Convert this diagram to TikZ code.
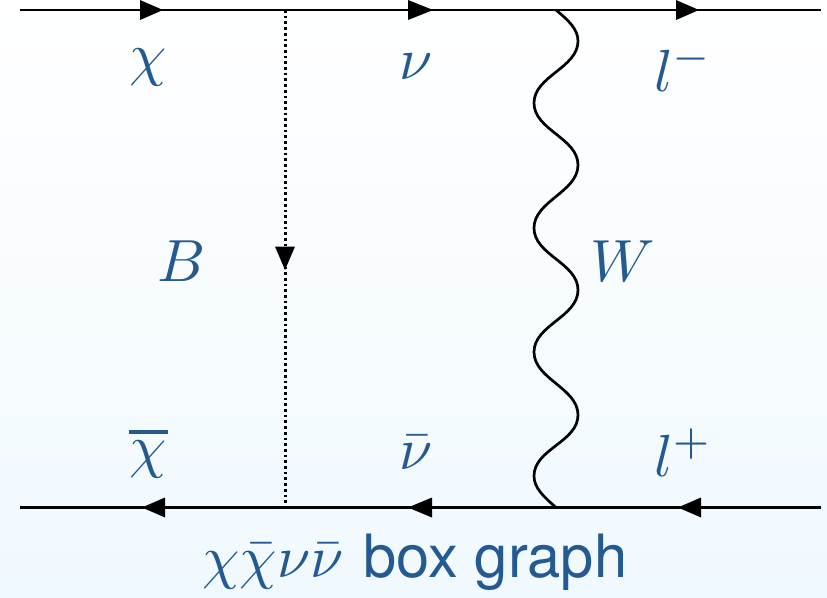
\documentclass[tikz,border=0pt]{standalone}
\usepackage{fontspec}
\setsansfont{TeX Gyre Heros}
\definecolor{labelblue}{HTML}{245A92}
\definecolor{bgbottom}{HTML}{F0F9FF}
\tikzset{
  lbl/.style={text=labelblue,inner sep=0pt,outer sep=0pt,anchor=base west,scale=5.95},
  fermion/.style={line width=2.8pt,draw=black},
  tipR/.style={fill=black,draw=none},
  wavy/.style={line width=2.7pt,draw=black,line cap=round},
  scalar/.style={line width=3pt,draw=black,dash pattern=on 2.7pt off 3pt}
}
\begin{document}
\begin{tikzpicture}[x=1pt,y=-1pt]
\useasboundingbox (0,0) rectangle (827,597);
\shade[top color=white,bottom color=bgbottom] (0,0) rectangle (827,597);
% vertices
\coordinate (tl) at (19.5,10);
\coordinate (tr) at (821,10);
\coordinate (bl) at (19.5,507.5);
\coordinate (br) at (821,507.5);
\coordinate (bt) at (285,10);
\coordinate (bb) at (285,507.5);
\coordinate (wt) at (556,10);
\coordinate (wb) at (556,507.5);
% fermion lines
\draw[fermion] (tl) -- (tr);
\draw[fermion] (bl) -- (br);
\draw[scalar] (bt) -- (bb);
% wiggly W
\draw[wavy] (wt)
  .. controls (568,20) and (578,29) .. (578,41)
  .. controls (578,68) and (534,76) .. (534,103)
  .. controls (534,130) and (578,138) .. (578,165)
  .. controls (578,192) and (534,201) .. (534,228)
  .. controls (534,255) and (578,263) .. (578,290)
  .. controls (578,317) and (534,325) .. (534,352)
  .. controls (534,379) and (578,388) .. (578,415)
  .. controls (578,442) and (534,449) .. (534,476)
  .. controls (534,488) and (544,497) .. (wb);
% arrowheads
\fill[tipR] (140,0) -- (163,10) -- (140,20) -- cycle;
\fill[tipR] (408,0) -- (433,10) -- (408,20) -- cycle;
\fill[tipR] (676,0) -- (699,10) -- (676,20) -- cycle;
\fill[tipR] (165,497.5) -- (142,507.5) -- (165,517.5) -- cycle;
\fill[tipR] (432,497.5) -- (408,507.5) -- (432,517.5) -- cycle;
\fill[tipR] (701,497.5) -- (678,507.5) -- (701,517.5) -- cycle;
\fill[tipR] (275,246.5) -- (285,270) -- (295,246.5) -- cycle;
% labels
\node[lbl] (chi) at (129,74) {$\chi$};
\node[lbl] (nu) at (399,79) {$\nu$};
\node[lbl] (lm) at (654,91) {$l^-$};
\node[lbl] (bos) at (157,281) {$B$};
\node[lbl] (wbos) at (590,281.5) {$W$};
\node[lbl] (chib) at (129,466) {\vbox{\hrule height .67pt \kern 1pt \hbox{\kern.1pt$\chi$\kern.2pt}}};
\node[lbl] (nub) at (399,469) {$\bar\nu$};
\node[lbl] (lp) at (654,476) {$l^+$};
\node[lbl,scale=1.003] (cap) at (202.5,577) {$\chi\bar\chi\nu\bar\nu$ \textsf{box graph}};
\end{tikzpicture}
\end{document}
